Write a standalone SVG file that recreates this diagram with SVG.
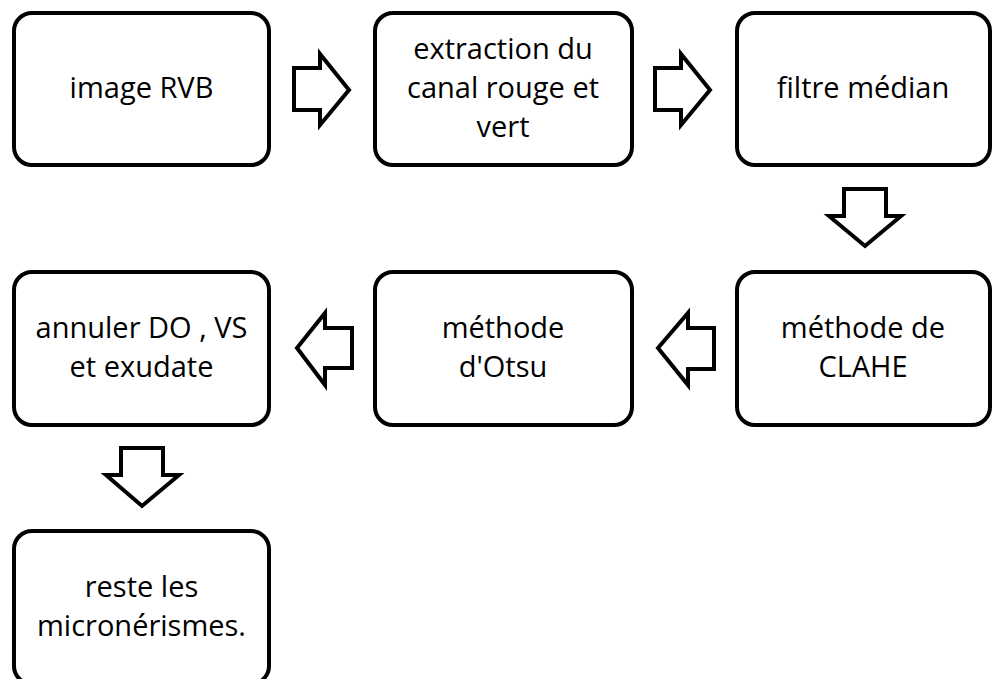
<svg xmlns="http://www.w3.org/2000/svg" width="992" height="679" viewBox="0 0 992 679">
<style>
.box{fill:#fff;stroke:#000;stroke-width:4}
.arr{fill:#fff;stroke:#000;stroke-width:4;stroke-linejoin:miter}
text{font-family:"Open Sans","Liberation Sans",sans-serif;font-size:29px;fill:#000;text-anchor:middle}
</style>
<rect width="992" height="679" fill="#fff"/>
<g id="n1"><rect class="box" x="14" y="13" width="255" height="152" rx="18"/><text x="141.5" y="98">image RVB</text></g>
<g id="n2"><rect class="box" x="375" y="13" width="257" height="152" rx="18"/><text x="503" y="59">extraction du</text><text x="503" y="98">canal rouge et</text><text x="503" y="137">vert</text></g>
<g id="n3"><rect class="box" x="737" y="13" width="253" height="152" rx="18"/><text x="863" y="98">filtre médian</text></g>
<g id="n4"><rect class="box" x="737" y="272" width="253" height="153" rx="18"/><text x="863" y="338">méthode de</text><text x="863" y="377">CLAHE</text></g>
<g id="n5"><rect class="box" x="375" y="272" width="257" height="153" rx="18"/><text x="503" y="338">méthode</text><text x="503" y="377">d'Otsu</text></g>
<g id="n6"><rect class="box" x="14" y="272" width="255" height="153" rx="18"/><text x="141.5" y="338">annuler DO , VS</text><text x="141.5" y="377">et exudate</text></g>
<g id="n7"><rect class="box" x="14" y="531" width="255" height="153" rx="18"/><text x="141.5" y="597">reste les</text><text x="141.5" y="636">micronérismes.</text></g>
<g id="connectors">
<polygon class="arr" points="294,68 320,68 320,54 349,90 320,125 320,110 294,110"/>
<polygon class="arr" points="655,68 681,68 681,54 710,90 681,125 681,110 655,110"/>
<polygon class="arr" points="844,189 886,189 886,216 901,216 865,246 829,216 844,216"/>
<polygon class="arr" points="714,328 688,328 688,313 658,348 688,385 688,369 714,369"/>
<polygon class="arr" points="352,328 325,328 325,313 297,348 325,385 325,368 352,368"/>
<polygon class="arr" points="121,448 163,448 163,475 179,475 142,506 106,475 121,475"/>
</g>
</svg>
